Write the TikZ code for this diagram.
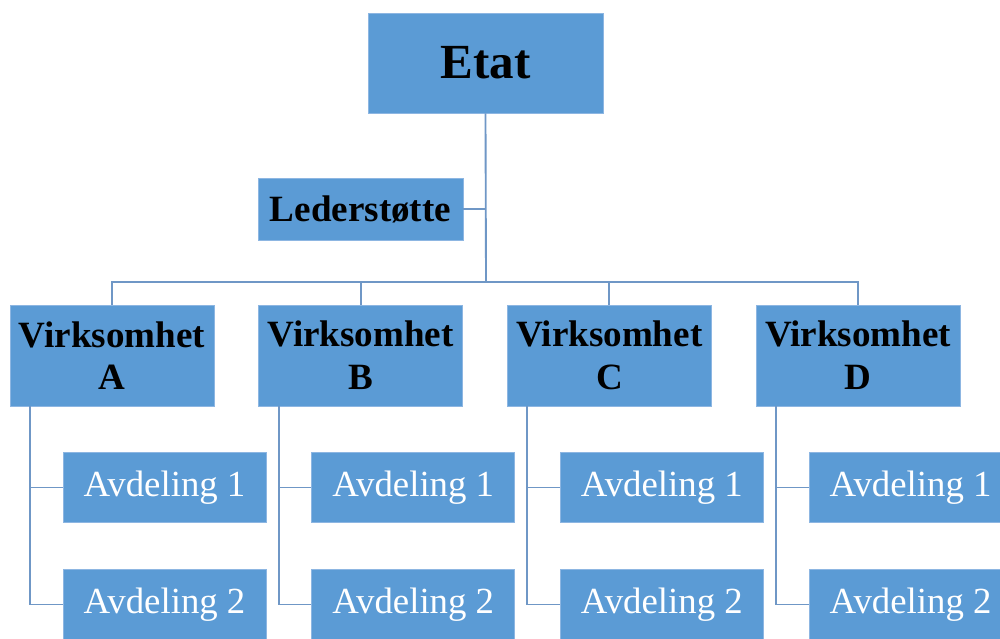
\documentclass[tikz,border=0pt]{standalone}
\usepackage{fontspec}
\setmainfont{Liberation Serif}
\definecolor{boxblue}{HTML}{5B9BD5}
\definecolor{edgeblue}{HTML}{8DB6E2}
\definecolor{linkblue}{HTML}{6F97C6}
\begin{document}
\begin{tikzpicture}[x=0.75pt,y=-0.75pt,
  box/.style={fill=boxblue, draw=edgeblue, line width=0.4pt, inner sep=0pt, align=center},
  topbox/.style={box, text=black, font=\bfseries\fontsize{36.8}{40}\selectfont,
    minimum width=176.25pt, minimum height=75pt},
  sidebox/.style={box, text=black, font=\bfseries\fontsize{27.8}{32}\selectfont,
    minimum width=153.75pt, minimum height=46.5pt},
  unitbox/.style={box, text=black, font=\bfseries\fontsize{27.8}{32}\selectfont,
    minimum width=153pt, minimum height=75.75pt},
  deptbox/.style={box, text=white, font=\fontsize{27.6}{30}\selectfont,
    minimum width=152.25pt, minimum height=52.5pt},
  conn/.style={draw=linkblue, line width=1.4pt}]

\clip (0,0) rectangle (1000,639);

% top of the hierarchy
\node[topbox] (etat) at (485.5,63) {Etat};
\node[sidebox] (led) at (360.5,209) {Lederstøtte};
\coordinate (bus) at (486,282);
\draw[conn] (etat.south) -- (bus);
\draw[conn] (led.east) -- (led.east -| bus);

% four units, each with two departments
\foreach \c/\i in {A/0, B/1, C/2, D/3} {
  \pgfmathsetmacro{\xo}{10+248.7*\i}
  \node[unitbox] (v\c) at (\xo+102,355.5) {Virksomhet\\\c};
  \node[deptbox] (d1\c) at (\xo+154.5,487.5) {Avdeling 1};
  \node[deptbox] (d2\c) at (\xo+154.5,604.5) {Avdeling 2};
  \coordinate (s\c) at (\xo+20,406);
  \draw[conn] (s\c) |- (d2\c.west);
  \draw[conn] (s\c |- d1\c.west) -- (d1\c.west);
}

% horizontal bus to the units
\draw[conn] (vA.north) |- (vD.north |- bus) -- (vD.north);
\draw[conn] (vB.north) -- (vB.north |- bus);
\draw[conn] (vC.north) -- (vC.north |- bus);
\end{tikzpicture}
\end{document}
